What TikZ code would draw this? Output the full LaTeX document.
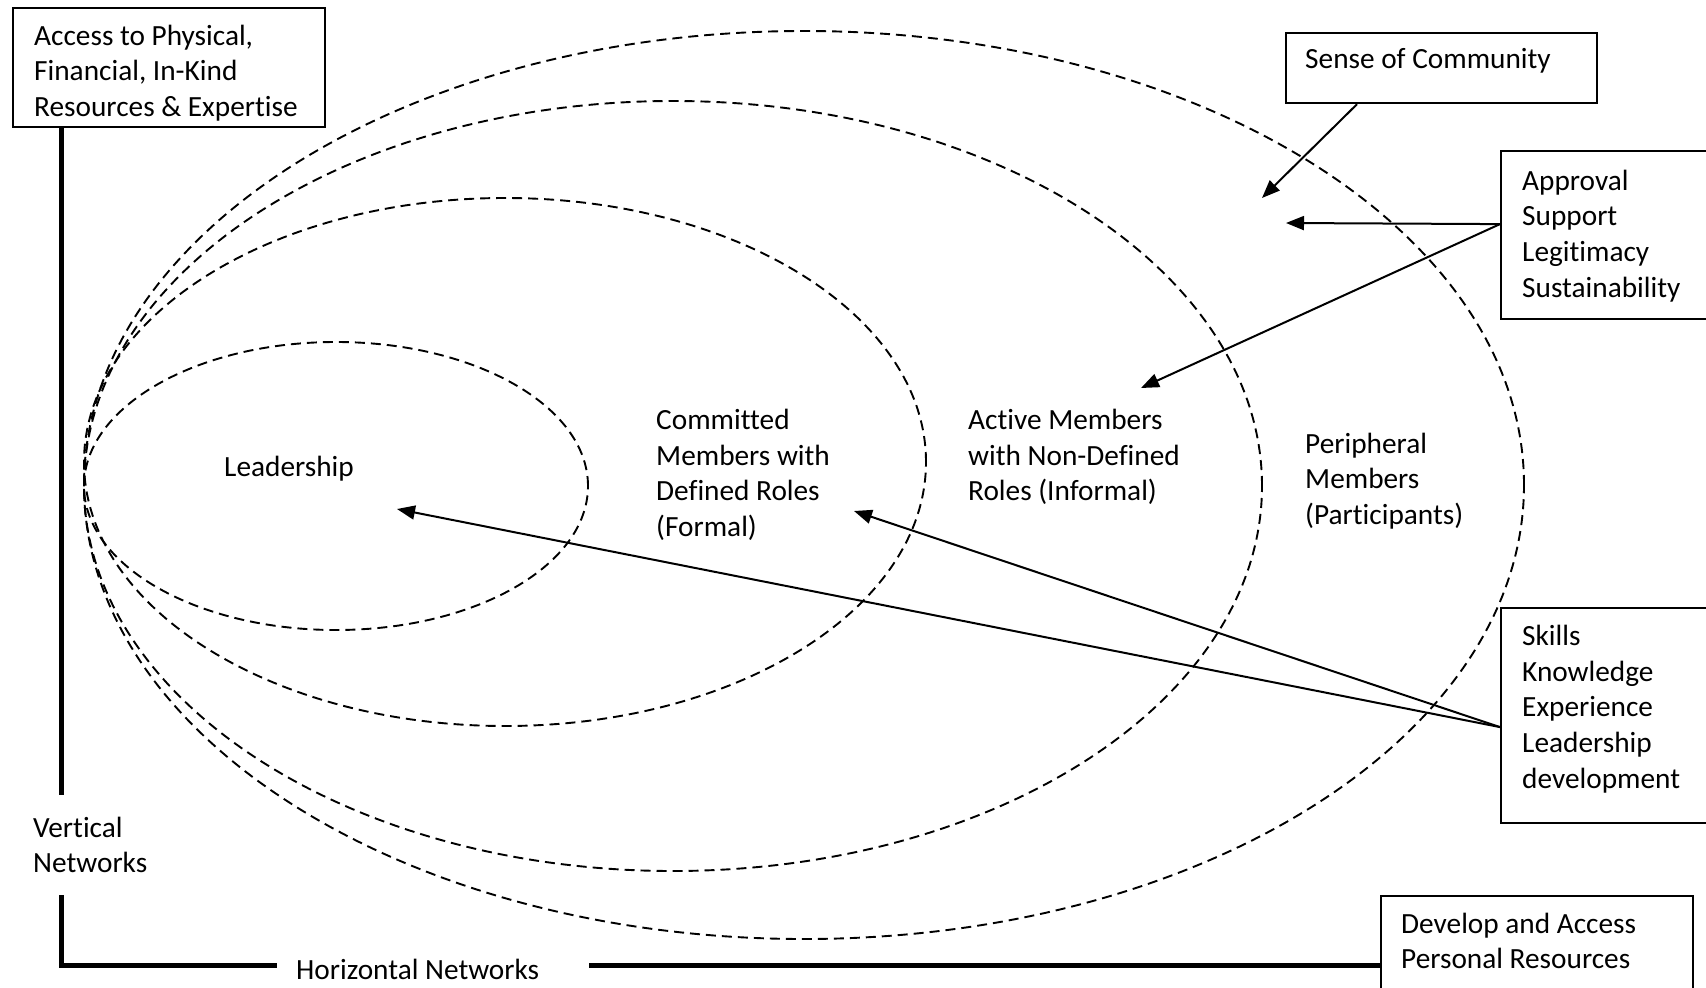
\documentclass[tikz,border=0pt]{standalone}
\usepackage{fontspec}
\setmainfont[Ligatures={NoCommon},RawFeature={-liga;-clig;-calt}]{Carlito}
\usetikzlibrary{arrows.meta,calc}
\newcommand{\nolig}{\kern0pt{}}
\begin{document}
\begin{tikzpicture}[x=1pt,y=-1pt,
  lbl/.style={inner sep=0pt, anchor=west, align=left, font=\fontsize{29.3}{35.7}\selectfont},
  frame/.style={draw, line width=2.2pt, inner sep=0pt, anchor=north west},
  ring/.style={draw, line width=1.9pt, dash pattern=on 10pt off 6pt},
  net/.style={line width=5pt},
  arr/.style={line width=2pt, -{Triangle[length=18pt,width=14pt]}}]
\useasboundingbox (0,0) rectangle (1706,988);
\clip (0,0) rectangle (1706,988);

% nested groups
\draw[ring] (804,485) ellipse [x radius=720pt, y radius=454pt];
\draw[ring] (673,486) ellipse [x radius=589pt, y radius=385pt];
\draw[ring] (505,462) ellipse [x radius=421pt, y radius=264pt];
\draw[ring] (336,486) ellipse [x radius=252pt, y radius=144pt];

% boxes
\node[frame, minimum width=312pt, minimum height=119.5pt] (acc) at (12,6.5) {};
\node[frame, minimum width=311pt, minimum height=70.5pt] (soc) at (1285,31.5) {};
\node[frame, minimum width=240pt, minimum height=168pt] (apv) at (1500,150) {};
\node[frame, minimum width=240pt, minimum height=215pt] (skl) at (1500,607) {};
\node[frame, minimum width=312pt, minimum height=120pt] (dev) at (1380,895) {};

% box texts
\node[lbl] (accT) at (34,73) {Access to Physical,\\Financial, In-Kind\\Resources \& Expert\nolig ise};
\node[lbl] (socT) at (1305,61) {Sense of Community};
\node[lbl] (apvT) at (1522,236) {Approval\\Support\\Legit\nolig imacy\\Sustainability};
\node[lbl] (sklT) at (1522,709) {Skills\\Knowledge\\Experience\\Leadership\\development};
\node[lbl] (devT) at (1401,941) {Develop and Access\\Personal Resources};

% group labels
\node[lbl] (lead) at (224,469) {Leadership};
\node[lbl] (comm) at (656,475) {Committed\\Members with\\Def\nolig ined Roles\\(Formal)};
\node[lbl] (act) at (968,457) {Active Members\\with Non-Def\nolig ined\\Roles (Informal)};
\node[lbl] (peri) at (1305,481) {Peripheral\\Members\\(Part\nolig icipants)};

% networks
\node[lbl] (vert) at (33,845) {Vertical\\Networks};
\node[lbl] (horz) at (296,969) {Horizontal Networks};
\coordinate (v1) at (61,795);
\coordinate (v2) at (61,895);
\coordinate (corner) at (61,965);
\coordinate (h1) at (277,965);
\coordinate (h2) at (589,965);
\draw[net] (acc.south -| v1) -- (v1);
\draw[net] (v2) -- (corner) -- (h1);
\draw[net] (h2) -- (h2 -| dev.west);

% arrows
\coordinate (t1) at (1262,198);
\coordinate (t2) at (1286,223);
\coordinate (t3) at (1141,388);
\coordinate (t4) at (397,509);
\coordinate (t5) at (854,511);
\draw[arr] ($(soc.south west)+(72,0)$) -- (t1);
\draw[arr] ($(apv.west)+(0,-11)$) -- (t2);
\draw[arr] ($(apv.west)+(0,-11)$) -- (t3);
\draw[arr] ($(skl.west)+(0,11.5)$) -- (t4);
\draw[arr] ($(skl.west)+(0,11.5)$) -- (t5);
\end{tikzpicture}
\end{document}
